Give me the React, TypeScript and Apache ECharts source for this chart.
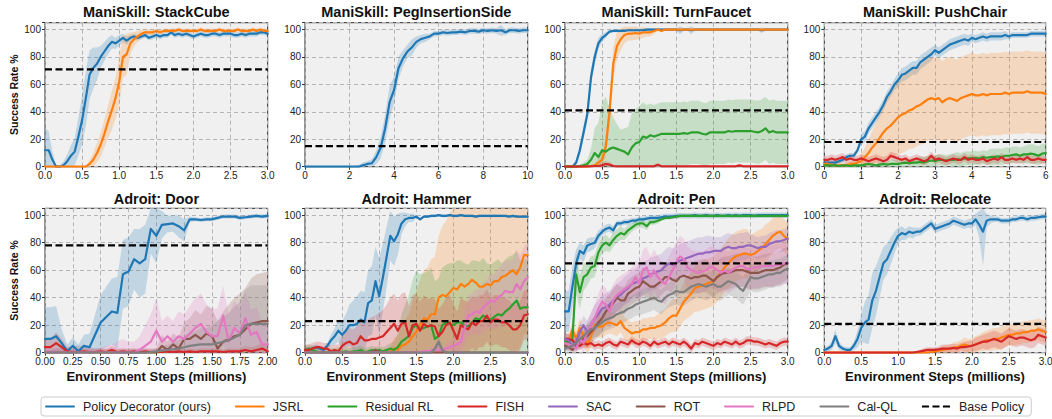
import React, { useEffect, useRef } from 'react';
import * as echarts from 'echarts';

const FONT = '"Liberation Sans", Arial, Helvetica, sans-serif';

const COLORS: Record<string, string> = {
  pd: '#1f77b4', jsrl: '#ff7f0e', res: '#2ca02c', fish: '#d62728',
  sac: '#9467bd', rot: '#8c564b', rlpd: '#e377c2', calql: '#7f7f7f',
};
const METHOD_NAMES: Record<string, string> = {
  pd: 'Policy Decorator (ours)', jsrl: 'JSRL', res: 'Residual RL', fish: 'FISH',
  sac: 'SAC', rot: 'ROT', rlpd: 'RLPD', calql: 'Cal-QL',
};
const LEGEND_ORDER = ['pd', 'jsrl', 'res', 'fish', 'sac', 'rot', 'rlpd', 'calql'];
const BASE_NAME = 'Base Policy';

// sample positions (environment steps, millions)
const steps = (step: number, n: number) => Array.from({ length: n }, (_, i) => +(i * step).toFixed(3));
const X_3 = steps(0.05, 61);
const X_PEG = steps(0.2, 51);
const X_CHAIR = steps(0.1, 61);
const X_DOOR = steps(0.05, 41);

// ---------- ManiSkill: StackCube ----------
const stackCubePD = [12,12,5,0,0,1,4,8,11,22, 34,50,67,72,75,80,84,88,91,90, 92,94,92,94,95,94,95,96,94,95, 96,95,96,96,98,96,97,96,97,96, 95,96,97,96,96,97,97,96,97,97, 97,96,96,97,96,97,97,97,98,98, 97];
const stackCubePDSpread = [16,14,6,1,1,3,5,8,10,14, 18,20,18,15,12,8,7,6,5,4, 4,3,3,2,2,2,2,2,2,2, 2,2,2,2,2,2,2,2,2,2, 2,2,2,2,2,2,2,2,2,2, 2,2,2,2,2,2,2,2,2,2, 2];
const stackCubeJSRL = [0,0,0,0,0,0,0,0,0,0, 0,0,2,5,10,16,24,33,41,50, 62,80,82,90,93,95,97,98,98,98, 99,98,99,99,99,99,100,99,99,99, 99,99,100,99,99,99,99,100,99,99, 99,99,100,99,99,99,100,99,100,99, 99];
const stackCubeJSRLSpread = [0,0,0,0,0,0,0,0,0,0, 0,0,3,5,7,9,10,12,14,15, 18,15,15,8,5,4,3,2,2,2, 1.5,1.5,1.5,1.5,1.5,1.5,1.5,1.5,1.5,1.5, 1.5,1.5,1.5,1.5,1.5,1.5,1.5,1.5,1.5,1.5, 1.5,1.5,1.5,1.5,1.5,1.5,1.5,1.5,1.5,1.5, 1.5];
const stackCubeBase = 71;

// ---------- ManiSkill: PegInsertionSide ----------
const pegPD = [0,0,0,0,0,0,0,0,0,0, 0,0,0,1,2,2.5,7,14,28,47, 56,72,79,84,87,91,93,94,95,97, 97,98,97.5,98,98,98.5,98,99,99,98.5, 99.5,99,99.5,99,99.5,98,99.5,99.5,99,99.5, 99.5];
const pegPDSpread = [0.5,0.5,0.5,0.5,0.5,0.5,0.5,0.5,0.5,0.5, 0.5,0.5,1,2,2,3,5,8,10,12, 10,8,6,5,6,4,3,3,2,2, 2,2,2,2,2,2,2,2,2,2, 2,2,2,2,4,2,2,2,2,2, 2];
const pegBase = 15;

// ---------- ManiSkill: TurnFaucet ----------
const faucetPD = [0,0,0,3,12,25,38,65,80,90, 94,96,98.5,99,99,99,99,99.5,99.5,99.5, 99.5,99.5,100,100,100,100,100,100,100,100, 100,99.5,100,100,99.5,100,100,100,100,100, 100,100,100,100,100,100,100,100,100,100, 100,100,100,99.5,100,100,100,100,100,100, 100];
const faucetPDSpread = [0,0,0.5,2,4,5,5,6,5,4, 3,2,1,1,1,1,1,1,1,1, 1,1,1,1,1,1,1,1,1,1, 1,3,1,1,3,1,1,1,1,1, 1,1,1,1,1,1,1,1,1,1, 1,1,1,2,1,1,1,1,1,1, 1];
const faucetJSRL = [0,0,0,0,0,0,0,0.5,1,3, 5,15,40,75,88,93,96,97,97,97.5, 97,98,98,98,99,100,99,100,100,100, 100,100,100,100,100,100,100,100,100,100, 100,100,100,100,100,100,100,100,100,100, 100,100,100,100,100,100,100,100,100,100, 100];
const faucetJSRLSpread = [0,0,0,0,0,0,0,0.5,1,3, 5,8,10,12,10,8,6,5,5,5, 4,4,3,3,2,1,1,0.5,0.5,0.5, 0.5,0.5,0.5,0.5,0.5,0.5,0.5,0.5,0.5,0.5, 0.5,0.5,0.5,0.5,0.5,0.5,0.5,0.5,0.5,0.5, 0.5,0.5,0.5,0.5,0.5,0.5,0.5,0.5,0.5,0.5, 0.5];
const faucetRes = [0,0,0,0,0.5,1,2,5,10,7, 12,11,13,14,13,12,11,9,14,17, 18,22,21,23,22,23,24,24,24,24, 24,24,24.5,24,25,25,25,24,23.5,25, 25,25,25,25,26,25.5,26,26,26,26, 26,25.5,25,26,28,25,26,25,25,25, 25];
const faucetResSpread = [0,0,0,0,1,2,3,8,18,25, 35,40,30,22,18,15,17,20,25,25, 26,25,24,23,23,23,23,23,23,23, 23,23,23,23,23,23,23,23,23,23, 23,23,23,23,23,23,23,23,23,23, 23,23,23,23,23,23,23,23,23,23, 23];
const faucetFish = [0,0,0,0,0,0,0.3,0.3,0.5,0.5, 1,2,1.5,0.5,0.3,0.3,0.3,0.3,0.3,0.3, 0.3,0.3,0.3,0.3,0.3,1.5,0.3,0.3,0.3,0.3, 0.3,0.3,0.3,0.3,0.3,0.3,0.3,0.3,0.3,0.3, 0.3,0.3,0.3,0.3,0.3,0.3,0.3,1,0.3,0.3, 0.3,0.3,0.3,0.3,0.3,0.3,0.3,0.3,0.3,0.3, 0.3];
const faucetFishSpread = [1,1,1,1,1,1,1,1,1,1, 2,2,2,1,1,1,1,1,1,1, 1,1,1,1,1,1,1,1,1,1, 1,1,1,1,1,1,1,1,1,1, 1,1,1,1,1,1,1,1,1,1, 1,1,1,1,1,1,1,1,1,1, 1];
const faucetBase = 41;

// ---------- ManiSkill: PushChair ----------
const chairPD = [3,3,3,3,4,5,7,8,8,12, 20,22,28,32,36,40,45,51,55,60, 63,67,68,70,72,72,76,78,80,82, 85,83,85,87,89,90,91,92,93,92, 94,93,94,95,94,95,95,95,95,96, 95,96,96,96,96,96,97,97,97,97, 97];
const chairPDSpread = [2,2,2,2,2,2,2,2,2,2, 4,4,4,4,4,4,4,4,4,4, 5,5,5,5,5,5,5,5,5,5, 4,4,4,4,4,4,4,4,4,4, 3,3,3,3,3,3,3,3,3,3, 2,2,2,2,2,2,2,2,2,2, 2];
const chairJSRL = [2,2,1.5,1,1,1,1,2,2,3, 4,7,10,14,17,21,25,28,30,33, 36,38,39,41,42,44,45,47,49,50, 49,50,47,49,50,49,48,50,51,52, 53,52,52,53,52,53,53,53,53,54, 53,54,54,54,54,55,54,54,54,54, 53];
const chairJSRLSpread = [2,2,2,2,2,2,2,2,2,2, 5,7,10,12,15,17,20,22,24,25, 27,28,28,28,29,29,29,30,30,30, 30,30,30,30,30,30,30,30,30,30, 30,30,30,30,30,30,30,30,30,30, 30,30,30,30,30,30,30,30,30,30, 30];
const chairRes = [1,1,1,1,0.5,1,1,0.5,1,1, 1,1.5,2,1.5,1,1.5,2,1.5,2,2, 2,2.5,3,2.5,3,3,3.5,3,4,4.5, 4,5,5,4.5,5,5,5.5,5,6,6, 6,6.5,6,7,6.5,7,7,7.5,7,8, 8,8.5,9,8,9,9,9.5,9,8,9.5, 10];
const chairResSpread = [1,1,1,1,1,1,1,1,1,1, 1,1,1,1,1,2,2,2,3,3, 3,3,3,3,3,4,4,4,4,4, 4,4,4,4,4,5,5,5,5,5, 5,5,5,5,5,6,6,6,6,6, 6,6,6,6,6,7,7,7,7,7, 7];
const chairFish = [5,5,6,5,6,7,5,6,5,5, 6,5,4,5,6,5,4,5,8,7, 6,5,6,4,5,6,5,4,5,8, 5,6,5,4,5,6,5,5,7,5, 6,5,5,6,4,5,6,5,7,5, 5,6,5,6,5,7,5,5,6,5, 5];
const chairFishSpread = [3,3,3,3,3,3,3,3,3,3, 3,3,3,3,3,3,3,3,3,3, 3,3,3,3,3,3,3,3,3,3, 3,3,3,3,3,3,3,3,3,3, 3,3,3,3,3,3,3,3,3,3, 3,3,3,3,3,3,3,3,3,3, 3];
const chairBase = 18;

// ---------- Adroit: Door ----------
const doorPD = [10,10,12,7,1,5,1,5,4,13, 22,26,30,29,57,59,68,65,68,90, 85,93,93.5,94,92,89,97,97,96.5,97, 97,98,99,99,99,98,98.5,99,99.5,99, 99.5];
const doorPDSpread = [23,23,22,10,5,6,5,8,10,15, 20,22,24,26,25,25,22,25,25,18, 20,10,6,6,8,8,2,1.5,1.5,1.5, 1.5,1.5,1.5,1.5,1.5,1.5,1.5,1.5,1.5,1.5, 1.5];
const doorFish = [4,4,7,4,1,0.5,0.5,1,0.5,0.5, 1,0.5,2,0.5,1,0.5,1,0.5,1,0.5, 0.5,0.5,1,0.5,1,0.5,1,0.5,1,1, 1,1,0.5,1,1,1,2,1,2,3, 1];
const doorFishSpread = [6,6,8,6,3,2,2,2,2,2, 2,2,3,2,2,2,2,2,2,2, 2,2,2,2,2,2,2,2,2,2, 2,2,2,2,2,2,3,3,3,4, 3];
const doorRot = [0,0,0,0,0,0,0,0,0,0, 0,0,0,0,0,0,0,0,0,0, 0,5,2,6,3,10,10,13,10,14, 12,3,8,10,12,13,17,21,22,23, 23];
const doorRotSpread = [2,2,3,3,4,5,5,5,4,3, 3,3,3,3,3,3,3,3,3,3, 3,8,6,8,8,12,15,18,18,20, 20,20,22,25,28,30,30,33,35,35, 36];
const doorRlpd = [0,0,0,0,0,0,0,0,0,0, 0,0,0,0,0,0,0,2,5,8, 16,8,12,8,12,10,14,18,21,15, 12,12,27,8,18,14,25,13,15,6, 6];
const doorRlpdSpread = [3,3,3,3,3,3,3,3,3,3, 4,5,6,8,10,8,8,10,15,20, 24,15,15,15,18,18,20,22,22,20, 20,20,22,20,20,18,20,18,18,15, 15];
const doorCalql = [0,0,0,0,0,0,0,0,0,0, 0,0,0,0,0,0,0,0,0,0.5, 1,1.5,2,2.5,3,4,5,5.5,6,6, 6,7,8,9,11,13,20,21,21,21, 21];
const doorCalqlSpread = [0.5,0.5,0.5,0.5,0.5,0.5,0.5,0.5,0.5,0.5, 0.5,0.5,0.5,0.5,0.5,0.5,0.5,0.5,0.5,1, 2,3,4,5,6,8,10,10,12,12, 14,16,18,20,22,24,26,28,28,28, 28];
const doorBase = 78;

// ---------- Adroit: Hammer ----------
const hammerPD = [2,2,3,4,3,2,5,9,12,16, 13,16,20,20,21,24,22,36,38,52, 41,55,70,85,81,86,94,97,98,98, 99,97,99,99,99.5,99.5,100,99.5,99.5,100, 99.5,99.5,100,99.5,99.5,99.5,99,99.5,99.5,99.5, 99.5,99.5,99.5,99.5,99.5,99,99.5,99,99,99, 99];
const hammerPDSpread = [2,2,2,2,2,2,2,4,6,8, 10,12,15,18,20,21,22,24,25,25, 28,25,22,18,18,15,8,5,3,3, 1,1,1,1,1,1,1,1,1,1, 1,1,1,1,1,1,1,1,1,1, 1,1,1,1,1,1,1,1,1,1, 1];
const hammerJSRL = [0,0,0,0,0,0,0,0,0,0, 0,0,0,0,0,0,0,0,0,0, 0,0,0,1,3,2,5,6,8,12, 15,20,25,24,28,28,40,42,41,44, 47,46,50,48,50,53,51,48,48,50, 49,52,52,55,56,58,60,57,62,71, 71];
const hammerJSRLSpread = [0.5,0.5,0.5,0.5,0.5,0.5,0.5,0.5,0.5,0.5, 0.5,0.5,0.5,0.5,0.5,0.5,0.5,0.5,0.5,0.5, 0.5,0.5,1,3,8,10,15,18,20,25, 30,33,35,38,40,42,45,50,55,58, 58,58,58,58,58,58,58,58,58,58, 58,58,58,58,58,58,58,58,58,58, 58];
const hammerRes = [2,3,2,1,0,0.5,0,0.5,0,1, 0.5,1,0.5,1,1,2,0.5,1,2,1, 2,1,2,3,2,4,8,10,12,18, 20,17,18,19,20,10,12,20,22,21, 20,22,22,20,19,22,25,24,27,25, 24,26,28,27,30,32,35,38,32,33, 33];
const hammerResSpread = [3,3,3,3,3,3,3,3,3,3, 3,3,3,3,3,3,3,3,3,3, 3,3,3,4,6,10,20,25,30,35, 40,40,40,40,42,42,42,42,42,44, 45,45,45,45,45,45,42,42,42,40, 40,40,40,38,38,38,36,36,35,35, 35];
const hammerFish = [2,2,3,4,4,3,3,1,2,1, 5,7,8,6,7,12,9,9,10,10, 11,12,15,18,21,16,21,22,12,20, 21,16,21,19,20,19,12,15,20,22, 16,10,20,18,17,22,20,23,23,27, 22,24,24,22,22,20,17,17,20,27, 28];
const hammerFishSpread = [4,4,4,4,4,4,4,4,4,5, 8,9,10,11,12,13,15,15,16,17, 18,19,20,22,22,22,22,22,22,22, 22,21,21,20,20,20,20,20,20,20, 20,20,20,20,20,19,19,19,19,19, 18,18,18,18,18,18,18,18,18,18, 18];
const hammerRot = [0,0,0,0,0,0,0,0,0,0, 0,0,0,0,0,0,0,0,0.5,2, 0.5,0,0,0,0,0,0,0,0,0, 0,0,0,0,0,0,0,0,0,0, 0,0,0,0,0,0,0,0,0,0, 0,0,0,0,0,0,0,0,0,0, 0];
const hammerRotSpread = [0.5,0.5,0.5,0.5,0.5,0.5,0.5,0.5,0.5,0.5, 0.5,0.5,0.5,0.5,0.5,0.5,0.5,0.5,1,2, 1,0.5,0.5,0.5,0.5,0.5,0.5,0.5,0.5,0.5, 0.5,0.5,0.5,0.5,0.5,0.5,0.5,0.5,0.5,0.5, 0.5,0.5,0.5,0.5,0.5,0.5,0.5,0.5,0.5,0.5, 0.5,0.5,0.5,0.5,0.5,0.5,0.5,0.5,0.5,0.5, 0.5];
const hammerRlpd = [0,0,0,0,0,0,0,0,0,0, 0,0,0,0,0,0,0,0,0,0, 0,0,0,0,0,0,0,0,0,0, 0,0.5,1,1,1.5,2,2,2,3,4, 5,6,8,18,27,28,30,29,33,35, 38,37,40,42,45,44,44,50,46,52, 55];
const hammerRlpdSpread = [1,1,1,1,1,1,1,1,1,1, 1,1,1,1,1,1,1,1,1,1, 1,1,1,1,1,1,1,1,1,1, 1,1,1,1,2,2,2,2,3,4, 5,6,8,12,15,15,16,17,18,18, 20,20,21,22,22,23,24,25,25,25, 25];
const hammerCalql = [0,0,0,0,0,0,0,0,0,0, 0,0,0,0,0,0,0,0,0,0, 0,0,0,0,0,0,0,0,0,0, 0,0,0,0,0,3,8,2,0,0, 0,0,0,0,0,0,0,0,0,0, 0,0,0,0,0,0,0,0,0,0, 0];
const hammerCalqlSpread = [0.5,0.5,0.5,0.5,0.5,0.5,0.5,0.5,0.5,0.5, 0.5,0.5,0.5,0.5,0.5,0.5,0.5,0.5,0.5,0.5, 0.5,0.5,0.5,0.5,0.5,0.5,0.5,0.5,0.5,0.5, 0.5,0.5,0.5,0.5,0.5,2,4,2,0.5,0.5, 0.5,0.5,0.5,0.5,0.5,0.5,0.5,0.5,0.5,0.5, 0.5,0.5,0.5,0.5,0.5,0.5,0.5,0.5,0.5,0.5, 0.5];
const hammerBase = 23;

// ---------- Adroit: Pen ----------
const penPD = [30,30,48,65,74,72,78,79,80,85, 88,90,91,89,94,94,95,95,96,96, 97,97,97.5,98,98,98,98.5,99,99,99, 99.5,99.5,99.5,99.5,99.5,100,99.5,99.5,100,99.5, 99.5,100,99.5,99.5,100,99.5,100,99.5,100,100, 100,99.5,100,100,100,100,100,100,100,100, 100];
const penPDSpread = [15,15,15,10,6,6,5,5,4,4, 3,3,3,3,2,2,2,2,2,2, 2,2,2,2,2,2,2,2,2,2, 2,2,2,2,2,2,2,2,2,2, 2,2,2,2,2,2,2,2,2,2, 2,2,2,2,2,2,2,2,2,2, 2];
const penJSRL = [8,9,17,10,18,12,5,12,20,19, 19,21,22,21,20,23,18,16,14,15, 15,17,17,18,18,19,20,22,25,27, 27,32,37,40,43,47,48,49,50,51, 52,55,58,62,65,68,70,71,72,72, 71,72,74,76,79,82,85,87,88,85, 83];
const penJSRLSpread = [5,5,6,6,7,7,7,8,8,8, 8,8,8,8,8,8,8,8,8,8, 8,8,8,8,8,9,10,10,11,12, 12,13,14,15,16,17,18,18,18,18, 18,18,18,18,18,18,18,18,18,18, 15,15,15,14,14,13,13,12,12,12, 12];
const penRes = [8,8,10,57,44,55,57,62,63,73, 78,80,78,82,85,87,86,89,91,93, 94,94,92,95,95,96,97,98,98,98.5, 99,99.5,99.5,99.5,99.5,99.5,99.5,99.5,99.5,99.5, 99.5,99.5,99.5,99.5,99.5,99.5,99.5,99.5,99.5,99.5, 99.5,99.5,99.5,99.5,99.5,99.5,99.5,99.5,99.5,99.5, 99.5];
const penResSpread = [3,3,8,15,12,10,8,8,8,7, 6,6,5,5,5,5,4,4,3,3, 3,3,3,2,2,2,1,1,1,1, 1,1,1,1,1,1,1,1,1,1, 1,1,1,1,1,1,1,1,1,1, 1,1,1,1,1,1,1,1,1,1, 1];
const penFish = [10,10,9,6,5,7,6,7,5,6, 5,7,8,6,5,8,7,6,9,7, 6,8,7,5,8,6,7,8,6,8, 7,6,8,6,3,7,6,8,7,6, 5,7,6,8,7,6,8,6,7,9, 9,8,8,7,6,7,6,5,7,8, 8];
const penFishSpread = [4,4,4,3,3,3,3,3,3,3, 3,3,3,3,3,3,3,3,3,3, 3,3,3,3,3,3,3,3,3,3, 3,3,3,3,3,3,3,3,3,3, 3,3,3,3,3,3,3,3,3,3, 3,3,3,3,3,3,3,3,3,3, 3];
const penSac = [10,9,5,8,15,20,15,20,25,28, 32,33,35,38,40,42,45,47,50,51, 52,54,55,57,58,59,60,63,65,64, 65,67,68,69,70,71,72,72,73,73, 74,74,74,76,77,76,76,77,77,78, 78,77,76,77,77,79,80,81,81,82, 83];
const penSacSpread = [4,4,4,5,6,7,8,9,10,10, 10,10,10,10,10,10,10,10,10,10, 12,12,12,12,12,12,12,12,12,12, 12,12,12,12,12,12,12,12,12,12, 10,10,10,10,10,10,10,10,10,10, 8,8,8,8,8,8,8,8,8,8, 8];
const penRot = [5,4,2,5,8,10,12,15,18,22, 25,30,33,36,40,38,38,43,45,47, 48,52,50,48,48,50,52,55,55,53, 52,55,56,55,54,55,55,56,56,54, 52,55,57,58,58,59,60,60,60,59, 58,58,58,59,60,60,60,61,62,64, 65];
const penRotSpread = [3,3,3,4,5,6,7,8,9,10, 10,10,10,10,10,10,10,10,10,10, 10,10,10,10,10,10,10,10,10,10, 12,12,12,12,12,12,12,12,12,12, 12,12,12,12,12,12,12,12,12,12, 12,12,12,12,12,12,12,12,12,12, 12];
const penRlpd = [7,6,5,3,10,7,15,20,25,32, 37,35,30,38,42,44,46,48,50,55, 50,60,62,55,60,55,52,50,55,60, 66,70,68,62,60,59,58,59,60,62, 62,60,58,60,58,60,62,63,63,61, 61,62,62,63,63,63,63,64,64,65, 65];
const penRlpdSpread = [4,4,4,5,6,7,8,9,10,11, 12,12,12,12,12,12,12,12,12,12, 15,15,15,15,15,15,15,15,15,15, 15,15,15,15,15,15,15,15,15,15, 15,15,15,15,15,15,15,15,15,15, 15,15,15,15,15,15,15,15,15,15, 15];
const penCalql = [3,4,5,7,10,12,15,17,18,20, 22,24,25,26,28,29,30,32,33,35, 36,37,38,39,40,38,37,40,42,43, 45,44,44,46,48,49,50,49,48,49, 50,48,48,50,52,51,50,47,45,50, 55,54,54,55,56,57,57,58,58,60, 61];
const penCalqlSpread = [2,3,3,4,5,6,6,7,7,8, 8,8,8,8,8,8,8,8,8,8, 9,9,9,9,9,9,9,9,9,9, 10,10,10,10,10,10,10,10,10,10, 10,10,10,10,10,10,10,10,10,10, 10,10,10,10,10,10,10,10,10,10, 10];
const penBase = 65;

// ---------- Adroit: Relocate ----------
const relocPD = [2,3,5,12,5,3,2,2,5,10, 18,22,24,38,45,55,65,68,74,80, 85,87,86,88,87,88,88,90,92,94, 90,91,92,93,94,96,95,94,93,94, 94,97,93,88,96,97,97,97,96,96, 96,97,97,98,98,97,98,98,98.5,99, 99];
const relocPDSpread = [2,2,3,5,3,2,2,2,3,6, 10,15,18,20,18,15,12,11,10,8, 6,5,4,4,4,3,3,3,3,3, 3,3,3,3,3,3,3,3,3,3, 4,4,10,25,5,3,2,2,2,2, 2,2,2,2,2,2,2,2,2,2, 2];
const relocJSRL = [0,0,0,0,0,0,0,0,0,0, 0,0,0,0,0,0,0,0,0,0, 0,0,0,0,0,0,0,0,0,0.5, 1,1.5,2,2.5,3,3.5,4,5,6,5, 5,6,7,8,9,9,10,10,11,12, 13,13,14,14,15,15,16,16,17,16, 15];
const relocJSRLSpread = [0.5,0.5,0.5,0.5,0.5,0.5,0.5,0.5,0.5,0.5, 0.5,0.5,0.5,0.5,0.5,0.5,0.5,0.5,0.5,0.5, 0.5,0.5,0.5,0.5,0.5,0.5,0.5,0.5,0.5,1, 2,2,3,3,3,4,4,4,5,5, 5,6,6,7,7,8,8,8,8,8, 8,8,8,8,8,8,8,8,8,8, 8];
const relocFish = [0,0,0,0,0,0,0,0,0,0, 0,0,0,0,0,0,0,0,0,0, 0,0,0,0,0,0.5,1,1.5,2,2, 2,2.5,3,3,3,3.5,3,4,4,4.5, 5,6,7,8,8,9,10,9,8,10, 12,11,10,11,11,10,9,10,13,12, 11];
const relocFishSpread = [0.5,0.5,0.5,0.5,0.5,0.5,0.5,0.5,0.5,0.5, 0.5,0.5,0.5,0.5,0.5,0.5,0.5,0.5,0.5,0.5, 0.5,0.5,0.5,0.5,0.5,1,1,2,2,2, 2,2,3,3,3,3,3,3,4,4, 4,5,5,5,6,6,6,6,6,6, 6,6,6,6,6,6,6,6,6,6, 6];
const relocBase = 21;

type Curve = { key: string; mean: number[]; spread: number[] };
type Panel = { title: string; xs: number[]; xMax: number; xInterval: number; decimals: number; base: number; curves: Curve[] };

const PANELS: Panel[] = [
  { title: 'ManiSkill: StackCube', xs: X_3, xMax: 3, xInterval: 0.5, decimals: 1, base: stackCubeBase, curves: [
    { key: 'pd', mean: stackCubePD, spread: stackCubePDSpread },
    { key: 'jsrl', mean: stackCubeJSRL, spread: stackCubeJSRLSpread },
  ] },
  { title: 'ManiSkill: PegInsertionSide', xs: X_PEG, xMax: 10, xInterval: 2, decimals: 0, base: pegBase, curves: [
    { key: 'pd', mean: pegPD, spread: pegPDSpread },
  ] },
  { title: 'ManiSkill: TurnFaucet', xs: X_3, xMax: 3, xInterval: 0.5, decimals: 1, base: faucetBase, curves: [
    { key: 'pd', mean: faucetPD, spread: faucetPDSpread },
    { key: 'jsrl', mean: faucetJSRL, spread: faucetJSRLSpread },
    { key: 'res', mean: faucetRes, spread: faucetResSpread },
    { key: 'fish', mean: faucetFish, spread: faucetFishSpread },
  ] },
  { title: 'ManiSkill: PushChair', xs: X_CHAIR, xMax: 6, xInterval: 1, decimals: 0, base: chairBase, curves: [
    { key: 'pd', mean: chairPD, spread: chairPDSpread },
    { key: 'jsrl', mean: chairJSRL, spread: chairJSRLSpread },
    { key: 'res', mean: chairRes, spread: chairResSpread },
    { key: 'fish', mean: chairFish, spread: chairFishSpread },
  ] },
  { title: 'Adroit: Door', xs: X_DOOR, xMax: 2, xInterval: 0.25, decimals: 2, base: doorBase, curves: [
    { key: 'pd', mean: doorPD, spread: doorPDSpread },
    { key: 'fish', mean: doorFish, spread: doorFishSpread },
    { key: 'rot', mean: doorRot, spread: doorRotSpread },
    { key: 'rlpd', mean: doorRlpd, spread: doorRlpdSpread },
    { key: 'calql', mean: doorCalql, spread: doorCalqlSpread },
  ] },
  { title: 'Adroit: Hammer', xs: X_3, xMax: 3, xInterval: 0.5, decimals: 1, base: hammerBase, curves: [
    { key: 'pd', mean: hammerPD, spread: hammerPDSpread },
    { key: 'jsrl', mean: hammerJSRL, spread: hammerJSRLSpread },
    { key: 'res', mean: hammerRes, spread: hammerResSpread },
    { key: 'fish', mean: hammerFish, spread: hammerFishSpread },
    { key: 'rot', mean: hammerRot, spread: hammerRotSpread },
    { key: 'rlpd', mean: hammerRlpd, spread: hammerRlpdSpread },
    { key: 'calql', mean: hammerCalql, spread: hammerCalqlSpread },
  ] },
  { title: 'Adroit: Pen', xs: X_3, xMax: 3, xInterval: 0.5, decimals: 1, base: penBase, curves: [
    { key: 'pd', mean: penPD, spread: penPDSpread },
    { key: 'jsrl', mean: penJSRL, spread: penJSRLSpread },
    { key: 'res', mean: penRes, spread: penResSpread },
    { key: 'fish', mean: penFish, spread: penFishSpread },
    { key: 'sac', mean: penSac, spread: penSacSpread },
    { key: 'rot', mean: penRot, spread: penRotSpread },
    { key: 'rlpd', mean: penRlpd, spread: penRlpdSpread },
    { key: 'calql', mean: penCalql, spread: penCalqlSpread },
  ] },
  { title: 'Adroit: Relocate', xs: X_3, xMax: 3, xInterval: 0.5, decimals: 1, base: relocBase, curves: [
    { key: 'pd', mean: relocPD, spread: relocPDSpread },
    { key: 'jsrl', mean: relocJSRL, spread: relocJSRLSpread },
    { key: 'fish', mean: relocFish, spread: relocFishSpread },
  ] },
];

const Y_MAX = 105;
const LEFTS = [45, 305, 565, 824.3];
const WIDTHS = [222.7, 222.7, 222.7, 221.4];
const TOPS = [22.7, 208.3];
const HEIGHTS = [144, 144.4];
const TITLE_Y = [12.3, 198.7];

function rgba(hex: string, a: number) {
  const r = parseInt(hex.slice(1, 3), 16), g = parseInt(hex.slice(3, 5), 16), b = parseInt(hex.slice(5, 7), 16);
  return `rgba(${r},${g},${b},${a})`;
}

function buildOption() {
  const grids: any[] = [], xAxes: any[] = [], yAxes: any[] = [], graphics: any[] = [];
  const bands: any[] = [], lines: any[] = [], bases: any[] = [];

  PANELS.forEach((p, gi) => {
    const col = gi % 4, row = Math.floor(gi / 4);
    grids.push({
      left: LEFTS[col], top: TOPS[row], width: WIDTHS[col], height: HEIGHTS[row],
      show: true, backgroundColor: '#f0f0f0', borderColor: '#262626', borderWidth: 1,
      containLabel: false, outerBoundsMode: 'none',
    });
    xAxes.push({
      gridIndex: gi, type: 'value', min: 0, max: p.xMax, interval: p.xInterval,
      axisLine: { show: false },
      axisTick: { show: true, length: 3, lineStyle: { color: '#333' } },
      axisLabel: { fontSize: 10, color: '#222', margin: 4, fontFamily: FONT,
        formatter: (v: number) => v.toFixed(p.decimals) },
      splitLine: { show: true, lineStyle: { color: '#b4b4b4', width: 1, type: [4, 3] } },
      name: row === 1 ? 'Environment Steps (millions)' : '',
      nameLocation: 'middle', nameGap: 17, nameMoveOverlap: false,
      nameTextStyle: { fontSize: 13, fontWeight: 'bold', color: '#111', fontFamily: FONT },
    });
    yAxes.push({
      gridIndex: gi, type: 'value', min: 0, max: Y_MAX, interval: 20,
      axisLine: { show: false },
      axisTick: { show: true, length: 3, lineStyle: { color: '#333' } },
      axisLabel: { fontSize: 10, color: '#222', margin: 4, fontFamily: FONT,
        formatter: (v: number) => (v % 20 === 0 ? String(v) : '') },
      splitLine: { show: true, lineStyle: { color: '#b4b4b4', width: 1, type: [4, 3] } },
      name: col === 0 ? 'Success Rate %' : '',
      nameLocation: 'middle', nameGap: 26, nameRotate: 90, nameMoveOverlap: false,
      nameTextStyle: { fontSize: 10.5, fontWeight: 'bold', color: '#111', fontFamily: FONT },
    });
    graphics.push({
      type: 'text', x: LEFTS[col] + WIDTHS[col] / 2, y: TITLE_Y[row], silent: true,
      style: { text: p.title, font: `bold 14.5px ${FONT}`, fill: '#111',
        textAlign: 'center', textVerticalAlign: 'middle', align: 'center', verticalAlign: 'middle' },
    });

    p.curves.forEach((c) => {
      const color = COLORS[c.key];
      const xs = p.xs;
      const lo = c.mean.map((m, i) => Math.max(0, m - c.spread[i]));
      const hi = c.mean.map((m, i) => Math.min(Y_MAX, m + c.spread[i]));
      bands.push({
        type: 'custom', name: `${c.key}-band-${gi}`, xAxisIndex: gi, yAxisIndex: gi,
        z: 1, silent: true, clip: true,
        data: xs.map((x, i) => [x, lo[i], hi[i]]),
        encode: { x: 0, y: [1, 2] },
        renderItem: (params: any, api: any) => {
          if (params.dataIndex !== 0) return null;
          const pts: number[][] = [];
          for (let i = 0; i < xs.length; i++) pts.push(api.coord([xs[i], hi[i]]));
          for (let i = xs.length - 1; i >= 0; i--) pts.push(api.coord([xs[i], lo[i]]));
          return { type: 'polygon', shape: { points: pts }, style: { fill: rgba(color, 0.22) } };
        },
      });
      lines.push({
        type: 'line', name: METHOD_NAMES[c.key], xAxisIndex: gi, yAxisIndex: gi,
        data: xs.map((x, i) => [x, c.mean[i]]),
        showSymbol: false, symbol: 'none', z: 2, silent: true, clip: true,
        order: LEGEND_ORDER.indexOf(c.key),
        lineStyle: { color, width: 2.2, join: 'round', cap: 'round' },
        itemStyle: { color },
        emphasis: { disabled: true },
      });
    });
    bases.push({
      type: 'line', name: BASE_NAME, xAxisIndex: gi, yAxisIndex: gi,
      data: [[0, p.base], [p.xMax, p.base]],
      showSymbol: false, symbol: 'none', z: 3, silent: true,
      lineStyle: { color: '#000', width: 2.2, type: [7, 3.5] },
      itemStyle: { color: '#000' },
      emphasis: { disabled: true },
    });
  });

  lines.sort((a, b) => a.order - b.order);
  lines.forEach((l) => delete l.order);

  return {
    animation: false,
    textStyle: { fontFamily: FONT },
    grid: grids,
    xAxis: xAxes,
    yAxis: yAxes,
    graphic: graphics,
    legend: {
      data: [...LEGEND_ORDER.map((k) => METHOD_NAMES[k]), BASE_NAME],
      left: 41, top: 397, orient: 'horizontal',
      itemWidth: 28, itemHeight: 14, itemGap: 24,
      padding: [3, 7, 3, 4],
      borderColor: '#cccccc', borderWidth: 1, borderRadius: 3,
      backgroundColor: '#ffffff',
      selectedMode: false,
      itemStyle: { opacity: 0 },
      textStyle: { fontSize: 12.5, color: '#222', fontFamily: FONT, padding: [0, 0, 0, 4] },
    },
    series: [...bands, ...lines, ...bases],
  };
}

export default function App() {
  const ref = useRef<HTMLDivElement>(null);
  useEffect(() => {
    if (!ref.current) return;
    const chart = echarts.init(ref.current, null, { renderer: 'svg' });
    chart.setOption(buildOption() as any);
    return () => chart.dispose();
  }, []);
  return <div ref={ref} style={{ position: 'fixed', left: 0, top: 0, width: 1052, height: 419, background: '#fff' }} />;
}
